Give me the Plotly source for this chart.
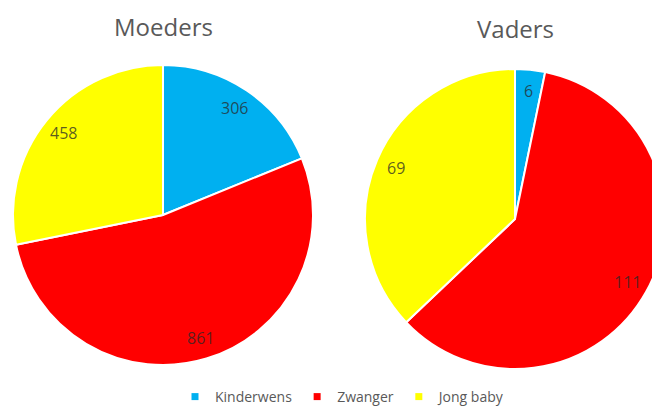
import numpy as np
import plotly.graph_objects as go

categories = ["Kinderwens", "Zwanger", "Jong baby"]
moeders = [306, 861, 458]
vaders = [6, 111, 69]
titles = ["Moeders", "Vaders"]
colors = ["#00B0F0", "#FF0000", "#FFFF00"]

W, H = 660, 408
FONT = "Open Sans"
OFF = 8  # page body margin offset

# pie geometry in figure pixels: (center x, center y, radius)
geo = [(155, 207, 150), (507, 211, 150)]

def domain(cx, cy, r):
    return dict(x=[(cx - r) / W, (cx + r) / W], y=[(H - cy - r) / H, (H - cy + r) / H])

def mid_angles(vals):
    v = np.asarray(vals, dtype=float)
    cum = np.cumsum(v) - v / 2
    return np.radians(cum / v.sum() * 360)

fig = go.Figure()
annotations = []

for vals, (cx, cy, r), title in zip([moeders, vaders], geo, titles):
    fig.add_trace(go.Pie(
        labels=categories, values=vals, sort=False, direction="clockwise",
        rotation=0, marker=dict(colors=colors, line=dict(color="white", width=2)),
        textinfo="none", hoverinfo="label+value", showlegend=False,
        domain=domain(cx, cy, r),
    ))
    for v, th in zip(vals, mid_angles(vals)):
        px = cx + 0.86 * r * np.sin(th)
        py = cy - 0.86 * r * np.cos(th)
        annotations.append(dict(
            text=str(v), x=px / W, y=1 - py / H, xref="paper", yref="paper",
            showarrow=False, xanchor="center", yanchor="middle",
            font=dict(family=FONT, size=16, color="rgba(40,40,40,0.75)"),
        ))

annotations.append(dict(text=titles[0], x=155 / W, y=1.0, xref="paper", yref="paper",
                        showarrow=False, xanchor="center", yanchor="top",
                        font=dict(family=FONT, size=24, color="#595959")))
annotations.append(dict(text=titles[1], x=507 / W, y=1 - 2 / H, xref="paper", yref="paper",
                        showarrow=False, xanchor="center", yanchor="top",
                        font=dict(family=FONT, size=24, color="#595959")))

for c, col in zip(categories, colors):
    fig.add_trace(go.Scatter(
        x=[None], y=[None], mode="markers", name=c,
        marker=dict(symbol="square", size=7, color=col),
    ))

fig.update_layout(
    width=W, height=H, margin=dict(l=0, r=0, t=0, b=0),
    paper_bgcolor="white", plot_bgcolor="white",
    font=dict(family=FONT, color="#595959"),
    xaxis=dict(visible=False), yaxis=dict(visible=False),
    legend=dict(orientation="h", x=(343 - OFF) / W, xanchor="center", y=19 / H, yanchor="middle",
                font=dict(family=FONT, size=14, color="#595959"),
                itemwidth=30, bgcolor="rgba(0,0,0,0)"),
    annotations=annotations,
)

fig.write_html("out.html")
